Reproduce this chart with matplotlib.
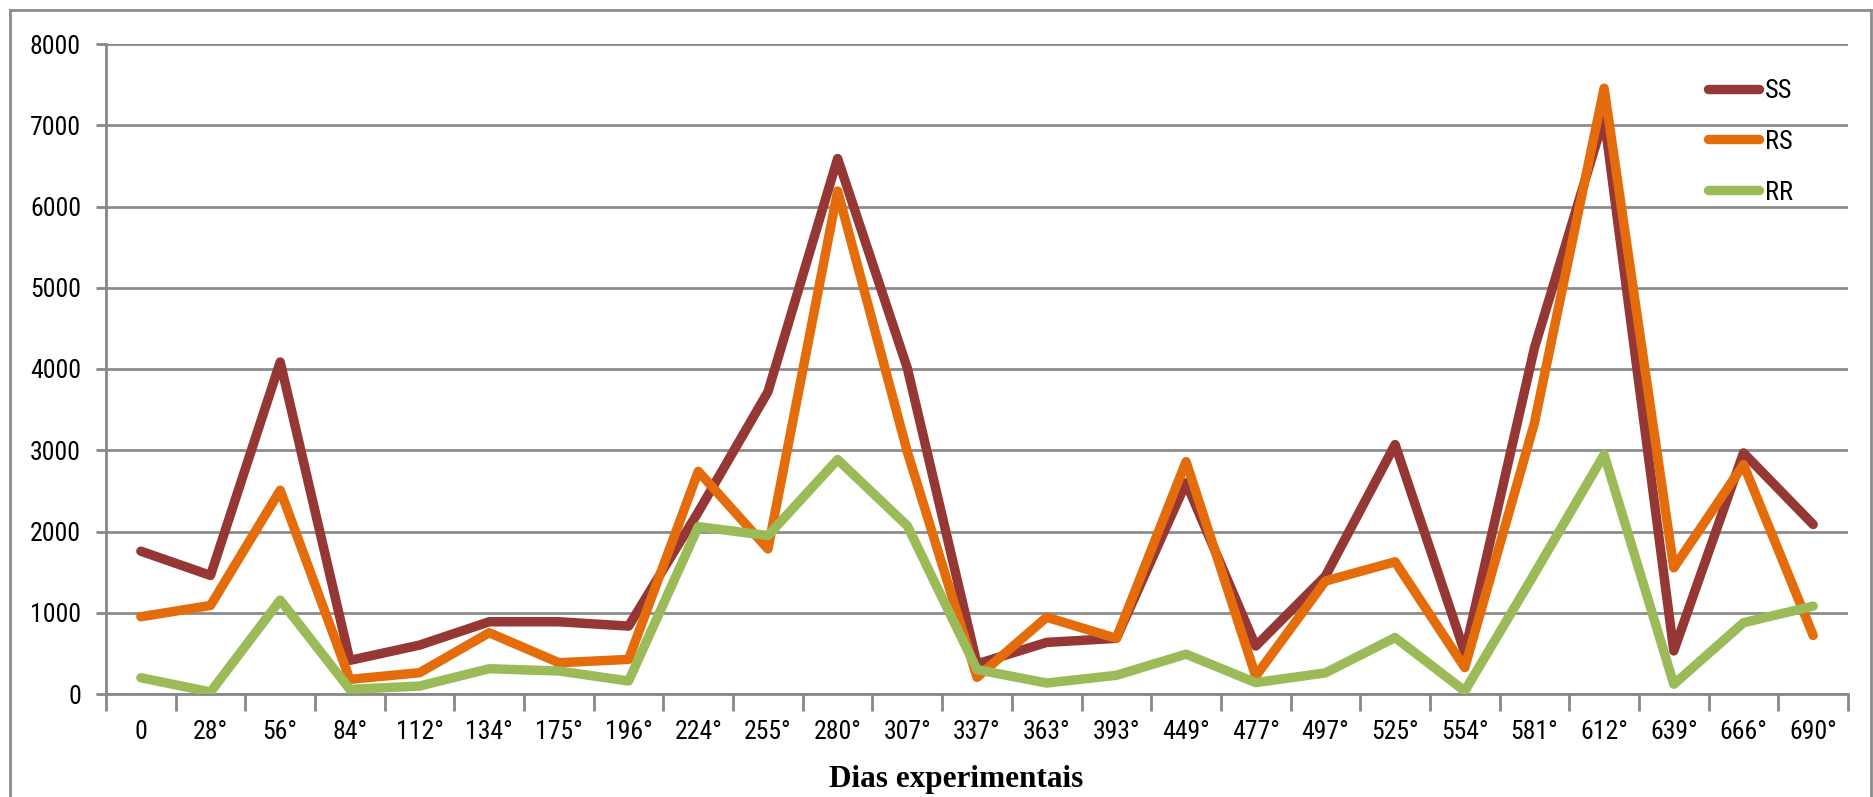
import matplotlib
matplotlib.use("Agg")
import matplotlib.pyplot as plt
from matplotlib.lines import Line2D
import numpy as np

categories = ["0", "28°", "56°", "84°", "112°", "134°", "175°", "196°", "224°", "255°",
              "280°", "307°", "337°", "363°", "393°", "449°", "477°", "497°", "525°", "554°",
              "581°", "612°", "639°", "666°", "690°"]
ss = [1758, 1459, 4086, 414, 602, 889, 889, 836, 2240, 3720,
      6590, 4010, 370, 635, 685, 2600, 590, 1450, 3070, 510,
      4260, 7100, 530, 2967, 2086]
rs = [951, 1090, 2508, 180, 262, 754, 385, 426, 2740, 1785,
      6190, 2980, 205, 945, 685, 2860, 220, 1390, 1627, 325,
      3336, 7456, 1553, 2824, 721]
rr = [200, 25, 1156, 57, 98, 311, 283, 160, 2060, 1950,
      2885, 2070, 300, 135, 230, 490, 140, 260, 695, 37,
      1480, 2947, 120, 877, 1082]
series_names = ["SS", "RS", "RR"]
colors = ["#953735", "#E46C0A", "#9BBB59"]
y_ticks = [0, 1000, 2000, 3000, 4000, 5000, 6000, 7000, 8000]

W, H = 1874, 797
fig = plt.figure(figsize=(W / 100, H / 100), dpi=100)
ax = fig.add_axes([106 / W, 1 - 694 / H, (1848 - 106) / W, (694 - 44) / H])

tick_font = ["Roboto Condensed", "DejaVu Sans"]
LW = 6.8

x = np.arange(len(categories))
for vals, c in zip([ss, rs, rr], colors):
    ax.plot(x, vals, color=c, lw=LW, solid_joinstyle="round", solid_capstyle="round", zorder=3)

ax.set_xlim(-0.5, len(categories) - 0.5)
ax.set_ylim(0, 8000)
ax.set_yticks(y_ticks)
ax.set_yticklabels([str(v) for v in y_ticks], fontfamily=tick_font, fontsize=18.5)
ax.set_xticks(x)
ax.set_xticklabels(categories, fontfamily=tick_font, fontsize=18.5)
ax.set_xticks(np.arange(-0.5, len(categories), 1.0), minor=True)
ax.tick_params(axis="x", which="major", length=0, pad=19)
ax.tick_params(axis="x", which="minor", length=12, width=2, color="#888888", direction="out")
ax.tick_params(axis="y", length=7, width=2, color="#888888", direction="out", pad=11)

ax.grid(axis="y", color="#8c8c8c", lw=2, zorder=0)
ax.set_axisbelow(True)
for s in ["top", "right"]:
    ax.spines[s].set_visible(False)
for s in ["left", "bottom"]:
    ax.spines[s].set_color("#888888")
    ax.spines[s].set_linewidth(2)

handles = [Line2D([0], [0], color=c, lw=LW, solid_capstyle="round") for c in colors]
leg = ax.legend(handles, series_names, loc="upper left", bbox_to_anchor=(1684 / W, 1 - 55 / H),
                bbox_transform=fig.transFigure, frameon=False, handlelength=1.95, handletextpad=0.22,
                labelspacing=1.02, prop={"family": tick_font, "size": 19})

fig.text(956 / W, 1 - 779 / H, "Dias experimentais", ha="center", va="center",
         fontfamily=["Liberation Serif", "DejaVu Serif"], fontweight="bold", fontsize=22.5)

# outer chart border
border_kw = dict(color="#8c8c8c", lw=2, transform=fig.transFigure, clip_on=False)
fig.add_artist(Line2D([10 / W, 10 / W], [0, 1 - 10 / H], **border_kw))
fig.add_artist(Line2D([10 / W, 1871 / W], [1 - 10 / H, 1 - 10 / H], **border_kw))
fig.add_artist(Line2D([1871 / W, 1871 / W], [0, 1 - 10 / H], **border_kw))

fig.savefig("out.png", dpi=100)
